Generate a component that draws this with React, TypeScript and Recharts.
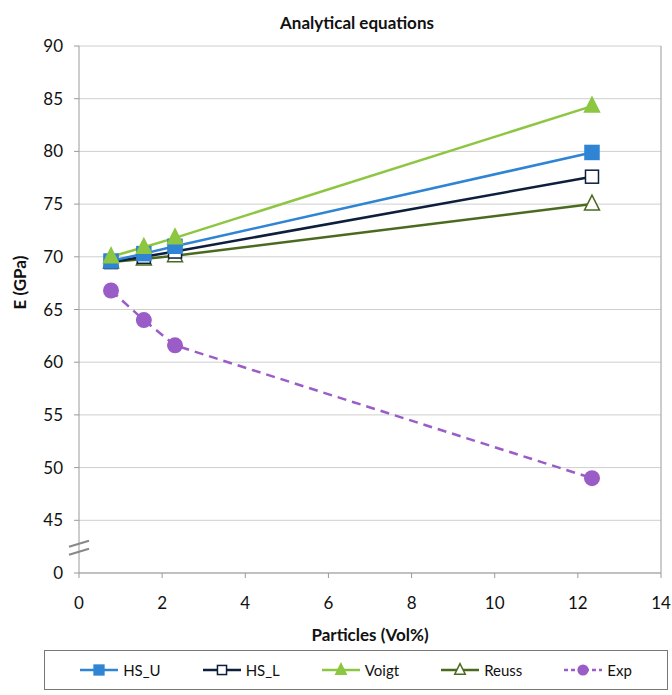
import React from "react";
import { LineChart, Line, XAxis, YAxis, CartesianGrid, Legend, ReferenceLine, ReferenceDot } from "recharts";

const particles = [0.77, 1.56, 2.31, 12.34];
const hsU = [69.6, 70.3, 71.0, 79.9];
const hsL = [69.5, 70.0, 70.5, 77.6];
const voigt = [70.0, 70.9, 71.8, 84.3];
const reuss = [69.5, 69.8, 70.1, 75.0];
const exp = [66.8, 64.0, 61.6, 49.0];
const xTicks = [0, 2, 4, 6, 8, 10, 12, 14];
const yTickLabels = [0, 45, 50, 55, 60, 65, 70, 75, 80, 85, 90];

// broken axis: values >= 45 are shifted down by 40, 0 stays 0
const BREAK_SHIFT = 40;
const toAxis = (v: number) => (v >= 45 ? v - BREAK_SHIFT : v);
const yTicks = yTickLabels.map(toAxis);

const data = particles.map((p, i) => ({
  x: p,
  hsU: toAxis(hsU[i]),
  hsL: toAxis(hsL[i]),
  voigt: toAxis(voigt[i]),
  reuss: toAxis(reuss[i]),
  exp: toAxis(exp[i]),
}));

const C = {
  hsU: "#2f84d4",
  hsL: "#0d1f3c",
  voigt: "#8dc641",
  reuss: "#4b6a1f",
  exp: "#9a5cc6",
};

const FONT = "Lato, 'Open Sans', sans-serif";

const Square = ({ cx, cy, fill, stroke, size = 13 }: any) => (
  <rect x={cx - size / 2} y={cy - size / 2} width={size} height={size} fill={fill} stroke={stroke} strokeWidth={1.5} />
);
const Tri = ({ cx, cy, fill, stroke, size = 14 }: any) => (
  <polygon
    points={`${cx},${cy - size * 0.6} ${cx - size / 2},${cy + size * 0.4} ${cx + size / 2},${cy + size * 0.4}`}
    fill={fill}
    stroke={stroke}
    strokeWidth={1.5}
  />
);
const Circ = ({ cx, cy, fill, r = 8 }: any) => <circle cx={cx} cy={cy} r={r} fill={fill} />;

const mk = (kind: string, s = 1) => (props: any) => {
  const { cx, cy, key, index } = props;
  const k = key ?? `${kind}-${index}`;
  if (cx == null || cy == null) return <g key={k} />;
  switch (kind) {
    case "hsU":
      return <Square key={k} cx={cx} cy={cy} fill={C.hsU} stroke={C.hsU} size={14 * s} />;
    case "hsL":
      return <Square key={k} cx={cx} cy={cy} fill="#ffffff" stroke={C.hsL} size={13 * s} />;
    case "voigt":
      return <Tri key={k} cx={cx} cy={cy} fill={C.voigt} stroke={C.voigt} size={15 * s} />;
    case "reuss":
      return <Tri key={k} cx={cx} cy={cy} fill="#ffffff" stroke={C.reuss} size={15 * s} />;
    default:
      return <Circ key={k} cx={cx} cy={cy} fill={C.exp} r={8 * s} />;
  }
};

const legendItems = [
  { key: "hsU", name: "HS_U", dash: undefined },
  { key: "hsL", name: "HS_L", dash: undefined },
  { key: "voigt", name: "Voigt", dash: undefined },
  { key: "reuss", name: "Reuss", dash: undefined },
  { key: "exp", name: "Exp", dash: "4 3" },
];

const LegendContent = () => (
  <div
    style={{
      border: "1px solid #777",
      height: 40,
      boxSizing: "border-box",
      display: "flex",
      alignItems: "center",
      justifyContent: "center",
      gap: 42,
      fontFamily: FONT,
      fontSize: 15,
      color: "#111",
      background: "#fff",
    }}
  >
    {legendItems.map((it) => (
      <div key={it.key} style={{ display: "flex", alignItems: "center" }}>
        <svg width={38} height={16}>
          <line x1={0} y1={8} x2={38} y2={8} stroke={(C as any)[it.key]} strokeWidth={2.5} strokeDasharray={it.dash} />
          {mk(it.key, 0.7)({ cx: 19, cy: 8, key: "l" + it.key })}
        </svg>
        <span style={{ marginLeft: 5 }}>{it.name}</span>
      </div>
    ))}
  </div>
);

const BreakMark = (props: any) => {
  const { cx, cy } = props;
  if (cx == null) return <g />;
  return (
    <g stroke="#888" strokeWidth={2}>
      <line x1={cx - 10} y1={cy - 2} x2={cx + 10} y2={cy - 8} />
      <line x1={cx - 10} y1={cy + 6} x2={cx + 10} y2={cy} />
    </g>
  );
};

export default function App() {
  return (
    <div style={{ position: "absolute", left: 0, top: 0, width: 672, height: 695, background: "#fff" }}>
      <div
        style={{
          position: "absolute",
          top: 12,
          left: 0,
          width: 714,
          textAlign: "center",
          fontFamily: FONT,
          fontWeight: "bold",
          fontSize: 17,
          lineHeight: "21px",
          color: "#111",
        }}
      >
        Analytical equations
      </div>
      <LineChart width={672} height={695} data={data} margin={{ top: 46, right: 11, left: 0, bottom: 54 }}>
        <CartesianGrid vertical={false} stroke="#cfcfcf" />
        <XAxis
          type="number"
          dataKey="x"
          domain={[0, 14]}
          ticks={xTicks}
          interval={0}
          height={68}
          stroke="#9a9a9a"
          tickSize={5}
          tick={{ fill: "#111", fontSize: 17, fontFamily: FONT, dy: 17 }}
          label={{ value: "Particles (Vol%)", position: "insideBottom", offset: 0, fill: "#111", fontSize: 17, fontWeight: "bold", fontFamily: FONT }}
        />
        <YAxis
          type="number"
          domain={[0, 50]}
          ticks={yTicks}
          interval={0}
          width={79}
          stroke="#9a9a9a"
          tickSize={5}
          tickFormatter={(t: number) => String(t === 0 ? 0 : t + BREAK_SHIFT)}
          tick={{ fill: "#111", fontSize: 17, fontFamily: FONT, dx: -9 }}
          label={{ value: "E (GPa)", angle: -90, position: "insideLeft", offset: 20, fill: "#111", fontSize: 17, fontWeight: "bold", fontFamily: FONT }}
        />
        <ReferenceLine x={14} stroke="#9a9a9a" />
        <ReferenceDot x={0} y={2.3} r={0} ifOverflow="visible" shape={BreakMark} />
        <Line dataKey="reuss" stroke={C.reuss} strokeWidth={2.5} dot={mk("reuss")} isAnimationActive={false} />
        <Line dataKey="hsL" stroke={C.hsL} strokeWidth={2.5} dot={mk("hsL")} isAnimationActive={false} />
        <Line dataKey="hsU" stroke={C.hsU} strokeWidth={2.5} dot={mk("hsU")} isAnimationActive={false} />
        <Line dataKey="voigt" stroke={C.voigt} strokeWidth={2.5} dot={mk("voigt")} isAnimationActive={false} />
        <Line dataKey="exp" stroke={C.exp} strokeWidth={2.5} strokeDasharray="9 6" dot={mk("exp")} isAnimationActive={false} />
        <Legend
          verticalAlign="middle"
          layout="horizontal"
          content={<LegendContent />}
          wrapperStyle={{ position: "absolute", top: 650, left: 44, width: 624, height: 40 }}
        />
      </LineChart>
    </div>
  );
}
